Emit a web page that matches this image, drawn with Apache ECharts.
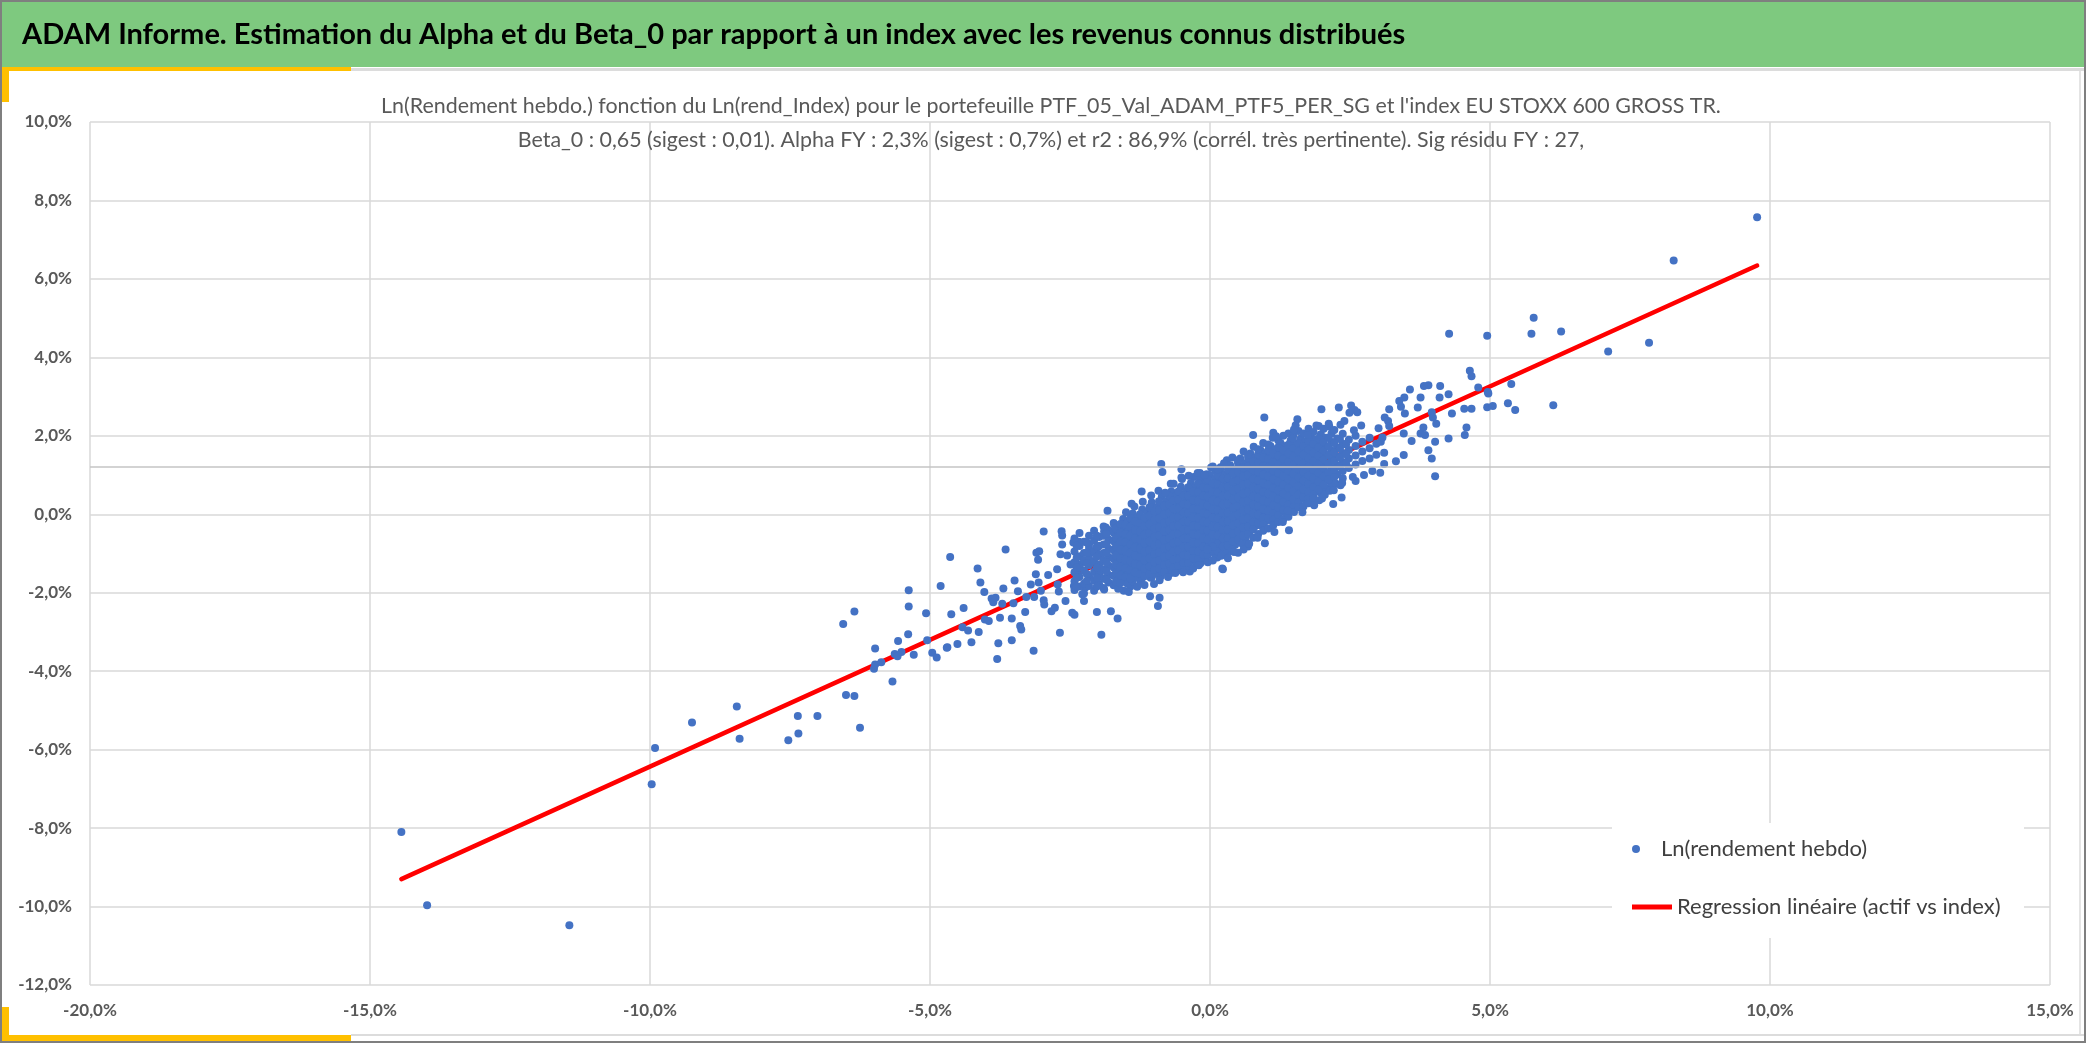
<!DOCTYPE html>
<html>
<head>
<meta charset="utf-8">
<script src="https://cdn.jsdelivr.net/npm/echarts@6/dist/echarts.min.js"></script>
<style>
html, body { margin: 0; padding: 0; background: #fff; }
#chart { width: 2086px; height: 1043px; }
</style>
</head>
<body>
<div id="chart"></div>
<script>
'use strict';

const FONT = 'Lato, "Open Sans", sans-serif';

const headerText = 'ADAM Informe. Estimation du Alpha et du Beta_0 par rapport à un index avec les revenus connus distribués';
const subtitleLines = [
    "Ln(Rendement hebdo.) fonction du Ln(rend_Index) pour le portefeuille PTF_05_Val_ADAM_PTF5_PER_SG et l'index EU STOXX 600 GROSS TR.",
    'Beta_0 : 0,65 (sigest : 0,01). Alpha FY : 2,3% (sigest : 0,7%) et r2 : 86,9% (corrél. très pertinente). Sig résidu FY : 27,'
];
const seriesNames = ['Ln(rendement hebdo)', 'Regression linéaire (actif vs index)'];

// axes in percent
const xRange = [-20, 15, 5];
const yRange = [-12, 10, 2];
const crossLineY = 1.22;

// x = Ln(rend_Index) %, y = Ln(rendement hebdo) %
const lowerTail = [
    [-14.44, -8.10], [-13.98, -9.97], [-11.44, -10.48], [-9.97, -6.88], [-9.91, -5.96], [-9.25, -5.31],
    [-8.45, -4.90], [-8.40, -5.72], [-7.53, -5.76], [-7.35, -5.59], [-7.36, -5.14], [-7.01, -5.14],
    [-6.50, -4.61], [-6.35, -4.63], [-6.25, -5.44], [-6.55, -2.80], [-6.35, -2.48], [-6.00, -3.94],
    [-5.98, -3.83], [-5.98, -3.42], [-5.87, -3.77], [-5.67, -4.26], [-5.63, -3.56], [-5.58, -3.62],
    [-5.57, -3.23], [-5.51, -3.51], [-5.39, -3.06], [-5.38, -1.94], [-5.38, -2.35], [-5.29, -3.58],
    [-5.07, -2.52], [-5.05, -3.21], [-4.96, -3.53], [-4.88, -3.65], [-4.81, -1.83], [-4.69, -3.39],
    [-4.64, -1.09], [-4.62, -2.55]
];

const leftFringe = [
    [-4.70, -3.40], [-4.51, -3.31], [-4.26, -3.26], [-4.40, -2.39], [-4.42, -2.88], [-4.32, -2.96],
    [-4.13, -3.00], [-4.15, -1.38], [-4.10, -1.74], [-4.03, -1.98], [-4.02, -2.68], [-3.90, -2.15],
    [-3.87, -2.24], [-3.83, -2.13], [-3.95, -2.72], [-3.80, -3.69], [-3.78, -3.29], [-3.75, -2.64],
    [-3.71, -2.28], [-3.69, -1.89], [-3.65, -0.90], [-3.54, -3.21], [-3.54, -2.66], [-3.51, -2.27],
    [-3.49, -1.69], [-3.43, -1.96], [-3.39, -2.85], [-3.37, -2.94], [-3.30, -2.49], [-3.28, -2.11],
    [-3.20, -1.79], [-3.15, -3.48], [-3.14, -2.11], [-3.11, -1.53], [-3.07, -1.16], [-3.10, -0.98],
    [-3.05, -0.94], [-3.06, -1.74], [-3.02, -1.95], [-2.97, -2.19], [-2.96, -2.30], [-2.97, -0.44],
    [-2.89, -1.55], [-2.83, -2.47], [-2.77, -2.38], [-2.73, -1.40], [-2.72, -1.79], [-2.70, -1.97],
    [-2.68, -3.02], [-2.65, -0.43], [-2.64, -0.54], [-2.64, -0.77], [-2.67, -1.02], [-2.55, -1.05],
    [-2.49, -1.28], [-2.58, -2.21], [-2.44, -0.72], [-2.34, -0.70], [-2.46, -2.51], [-2.42, -2.56],
    [-2.43, -1.83], [-2.37, -1.53], [-2.32, -1.28], [-2.25, -2.21], [-2.28, -2.04], [-2.23, -1.87],
    [-2.16, -0.77], [-2.13, -0.98], [-2.01, -0.85], [-2.02, -2.49], [-1.94, -3.07], [-1.89, -1.92],
    [-1.83, 0.09], [-1.89, -0.43], [-1.86, -0.34], [-1.77, -2.47], [-1.65, -2.66], [-1.71, -0.26],
    [-1.40, 0.27], [-1.22, 0.58], [-1.07, -2.09], [-0.90, -2.13], [-0.93, -2.34], [-0.87, 1.28],
    [-0.85, 1.08], [-0.51, 1.15], [-0.18, 1.05], [0.02, 1.19], [0.30, 1.38], [-0.36, -1.46],
    [-0.15, -1.19], [0.23, -1.40], [0.30, -0.72], [-0.70, 0.78], [-0.29, 0.95], [-0.51, 0.94],
    [-0.06, 1.02], [-1.54, -1.95], [-1.42, -1.84], [-1.24, -1.75], [-1.06, -1.62], [-0.88, -1.58],
    [-0.70, -1.50], [-0.55, -1.42], [-0.38, -1.30], [-0.17, -1.25], [0.13, -1.10], [0.31, -0.98],
    [0.19, 1.20], [0.10, 1.10]
];

// dense core, one column per index return: [x, [y...]]
const coreColumns = [
    [-2.42, [-0.62, -0.95, -1.22, -1.48, -1.71, -1.93]],
    [-2.33, [-0.48, -0.81, -1.07, -1.35, -1.60, -1.84]],
    [-2.25, [-0.70, -0.99, -1.18, -1.44, -1.77, -2.02]],
    [-2.16, [-0.55, -0.86, -1.12, -1.30, -1.58, -1.83]],
    [-2.07, [-0.42, -0.67, -0.94, -1.21, -1.47, -1.69, -1.95]],
    [-1.98, [-0.58, -0.80, -1.03, -1.28, -1.52, -1.78]],
    [-1.90, [-0.31, -0.55, -0.77, -0.99, -1.17, -1.40, -1.63, -1.88]],
    [-1.81, [-0.40, -0.64, -0.88, -1.09, -1.31, -1.55, -1.74]],
    [-1.72, [-0.22, -0.47, -0.69, -0.92, -1.14, -1.36, -1.57, -1.81]],
    [-1.64, [-0.33, -0.55, -0.79, -1.00, -1.23, -1.45, -1.66, -1.90]],
    [-1.55, [-0.12, -0.36, -0.58, -0.80, -1.02, -1.25, -1.47, -1.70]],
    [-1.47, [-0.20, -0.43, -0.65, -0.87, -1.10, -1.31, -1.53, -1.78]],
    [-1.38, [0.02, -0.21, -0.44, -0.66, -0.88, -1.09, -1.30, -1.52, -1.71]],
    [-1.30, [-0.08, -0.30, -0.52, -0.73, -0.95, -1.16, -1.38, -1.61]],
    [-1.21, [0.12, -0.11, -0.33, -0.55, -0.76, -0.98, -1.20, -1.41, -1.62]],
    [-1.12, [0.03, -0.20, -0.41, -0.63, -0.85, -1.06, -1.27, -1.49]],
    [-1.04, [0.30, 0.08, -0.15, -0.36, -0.58, -0.79, -1.00, -1.22, -1.43, -1.60]],
    [-0.95, [0.18, -0.04, -0.26, -0.47, -0.69, -0.90, -1.12, -1.33, -1.52]],
    [-0.86, [0.45, 0.23, 0.01, -0.21, -0.42, -0.64, -0.85, -1.07, -1.28, -1.46]],
    [-0.78, [0.33, 0.11, -0.11, -0.32, -0.54, -0.75, -0.97, -1.18, -1.38]],
    [-0.69, [0.58, 0.36, 0.14, -0.08, -0.29, -0.51, -0.72, -0.94, -1.15, -1.35]],
    [-0.60, [0.47, 0.25, 0.03, -0.19, -0.40, -0.62, -0.83, -1.05, -1.26]],
    [-0.52, [0.70, 0.48, 0.26, 0.04, -0.18, -0.39, -0.61, -0.82, -1.04, -1.27]],
    [-0.43, [0.58, 0.36, 0.14, -0.08, -0.29, -0.51, -0.72, -0.94, -1.15, -1.33]],
    [-0.34, [0.80, 0.58, 0.36, 0.14, -0.08, -0.29, -0.51, -0.72, -0.94, -1.15]],
    [-0.26, [0.69, 0.47, 0.25, 0.03, -0.19, -0.40, -0.62, -0.83, -1.05, -1.22]],
    [-0.17, [0.90, 0.68, 0.46, 0.24, 0.02, -0.20, -0.41, -0.63, -0.84, -1.06]],
    [-0.08, [0.80, 0.58, 0.36, 0.14, -0.08, -0.29, -0.51, -0.72, -0.94, -1.12]],
    [0.00, [1.00, 0.78, 0.56, 0.34, 0.12, -0.10, -0.31, -0.53, -0.74, -0.96]],
    [0.09, [0.90, 0.68, 0.46, 0.24, 0.02, -0.20, -0.41, -0.63, -0.84, -1.02]],
    [0.18, [1.10, 0.88, 0.66, 0.44, 0.22, 0.00, -0.21, -0.43, -0.64, -0.86]],
    [0.27, [1.02, 0.80, 0.58, 0.36, 0.14, -0.08, -0.29, -0.51, -0.72, -0.92]],
    [0.36, [1.25, 1.03, 0.81, 0.59, 0.37, 0.15, -0.07, -0.28, -0.50, -0.71]],
    [0.45, [1.15, 0.93, 0.71, 0.49, 0.27, 0.05, -0.17, -0.38, -0.60, -0.78]],
    [0.54, [1.42, 1.20, 0.98, 0.76, 0.54, 0.32, 0.10, -0.12, -0.33, -0.55]],
    [0.63, [1.30, 1.08, 0.86, 0.64, 0.42, 0.20, -0.02, -0.23, -0.45, -0.62]],
    [0.72, [1.55, 1.33, 1.11, 0.89, 0.67, 0.45, 0.23, 0.01, -0.20, -0.42]],
    [0.81, [1.45, 1.23, 1.01, 0.79, 0.57, 0.35, 0.13, -0.09, -0.30]],
    [0.90, [1.64, 1.42, 1.20, 0.98, 0.76, 0.54, 0.32, 0.10, -0.11, -0.28]],
    [0.99, [1.56, 1.34, 1.12, 0.90, 0.68, 0.46, 0.24, 0.02, -0.18]],
    [1.08, [1.74, 1.52, 1.30, 1.08, 0.86, 0.64, 0.42, 0.20, -0.02, -0.15]],
    [1.17, [1.66, 1.44, 1.22, 1.00, 0.78, 0.56, 0.34, 0.12, -0.08]],
    [1.26, [1.82, 1.60, 1.38, 1.16, 0.94, 0.72, 0.50, 0.28, 0.06]],
    [1.35, [1.74, 1.52, 1.30, 1.08, 0.86, 0.64, 0.42, 0.20, 0.05]],
    [1.44, [1.88, 1.66, 1.44, 1.22, 1.00, 0.78, 0.56, 0.34, 0.14]],
    [1.53, [1.80, 1.58, 1.36, 1.14, 0.92, 0.70, 0.48, 0.27]],
    [1.62, [1.93, 1.71, 1.49, 1.27, 1.05, 0.83, 0.61, 0.39]],
    [1.71, [1.85, 1.63, 1.41, 1.19, 0.97, 0.75, 0.53, 0.36]],
    [1.80, [1.98, 1.76, 1.54, 1.32, 1.10, 0.88, 0.66, 0.46]],
    [1.89, [1.90, 1.68, 1.46, 1.24, 1.02, 0.80, 0.58]],
    [1.98, [2.04, 1.82, 1.60, 1.38, 1.16, 0.94, 0.72, 0.55]],
    [2.07, [1.95, 1.73, 1.51, 1.29, 1.07, 0.85, 0.66]],
    [2.17, [2.06, 1.84, 1.62, 1.40, 1.18, 0.96, 0.78]],
    [2.27, [1.93, 1.70, 1.47, 1.25, 1.02]],
    [2.37, [2.05, 1.80, 1.56, 1.33, 1.10, 0.92]],
    [2.48, [1.90, 1.64, 1.42, 1.18]],
    [2.60, [2.00, 1.74, 1.50, 1.27]],
    [2.72, [1.85, 1.60, 1.36]],
    [2.85, [1.95, 1.68, 1.42]],
    [2.97, [1.80, 1.52]]
];

// second layer of the core, between the columns above
const coreColumnsB = [
    [-2.38, [-0.80, -1.10, -1.36, -1.62, -1.85]],
    [-2.20, [-0.72, -0.98, -1.25, -1.52, -1.70]],
    [-2.02, [-0.55, -0.82, -1.08, -1.36, -1.62, -1.84]],
    [-1.85, [-0.50, -0.76, -0.98, -1.22, -1.45, -1.67]],
    [-1.68, [-0.36, -0.60, -0.83, -1.05, -1.28, -1.50, -1.72]],
    [-1.60, [-0.25, -0.47, -0.70, -0.90, -1.12, -1.34, -1.56, -1.76]],
    [-1.51, [-0.27, -0.50, -0.71, -0.93, -1.15, -1.37, -1.60]],
    [-1.42, [-0.10, -0.32, -0.55, -0.77, -0.98, -1.20, -1.42, -1.63]],
    [-1.34, [-0.18, -0.40, -0.62, -0.84, -1.05, -1.27, -1.48]],
    [-1.25, [0.00, -0.22, -0.44, -0.65, -0.87, -1.09, -1.30, -1.52]],
    [-1.17, [-0.08, -0.30, -0.52, -0.74, -0.95, -1.17, -1.38, -1.58]],
    [-1.08, [0.18, -0.04, -0.26, -0.48, -0.69, -0.91, -1.12, -1.33, -1.52]],
    [-0.99, [0.08, -0.14, -0.36, -0.57, -0.79, -1.01, -1.22, -1.42]],
    [-0.91, [0.33, 0.11, -0.11, -0.33, -0.54, -0.76, -0.97, -1.18, -1.38]],
    [-0.82, [0.22, 0.00, -0.22, -0.43, -0.65, -0.86, -1.08, -1.29, -1.47]],
    [-0.73, [0.47, 0.25, 0.03, -0.19, -0.40, -0.62, -0.83, -1.05, -1.26]],
    [-0.65, [0.36, 0.14, -0.08, -0.30, -0.51, -0.73, -0.94, -1.16, -1.36]],
    [-0.56, [0.59, 0.37, 0.15, -0.07, -0.28, -0.50, -0.71, -0.93, -1.15, -1.32]],
    [-0.47, [0.48, 0.26, 0.04, -0.18, -0.39, -0.61, -0.82, -1.04, -1.24]],
    [-0.39, [0.69, 0.47, 0.25, 0.03, -0.19, -0.40, -0.62, -0.83, -1.05, -1.24]],
    [-0.30, [0.58, 0.36, 0.14, -0.08, -0.29, -0.51, -0.72, -0.94, -1.12]],
    [-0.21, [0.79, 0.57, 0.35, 0.13, -0.09, -0.30, -0.52, -0.73, -0.95, -1.14]],
    [-0.12, [0.69, 0.47, 0.25, 0.03, -0.19, -0.40, -0.62, -0.83, -1.03]],
    [-0.04, [0.89, 0.67, 0.45, 0.23, 0.01, -0.21, -0.42, -0.64, -0.85, -1.04]],
    [0.05, [0.79, 0.57, 0.35, 0.13, -0.09, -0.31, -0.52, -0.74, -0.93]],
    [0.14, [0.99, 0.77, 0.55, 0.33, 0.11, -0.11, -0.32, -0.54, -0.75, -0.94]],
    [0.23, [0.91, 0.69, 0.47, 0.25, 0.03, -0.19, -0.40, -0.62, -0.82]],
    [0.32, [1.14, 0.92, 0.70, 0.48, 0.26, 0.04, -0.18, -0.39, -0.61, -0.80]],
    [0.41, [1.04, 0.82, 0.60, 0.38, 0.16, -0.06, -0.28, -0.49, -0.69]],
    [0.50, [1.31, 1.09, 0.87, 0.65, 0.43, 0.21, -0.01, -0.23, -0.44, -0.64]],
    [0.59, [1.19, 0.97, 0.75, 0.53, 0.31, 0.09, -0.13, -0.34, -0.54]],
    [0.68, [1.44, 1.22, 1.00, 0.78, 0.56, 0.34, 0.12, -0.10, -0.31, -0.50]],
    [0.77, [1.34, 1.12, 0.90, 0.68, 0.46, 0.24, 0.02, -0.20, -0.38]],
    [0.86, [1.53, 1.31, 1.09, 0.87, 0.65, 0.43, 0.21, -0.01, -0.22]],
    [0.95, [1.45, 1.23, 1.01, 0.79, 0.57, 0.35, 0.13, -0.09, -0.26]],
    [1.04, [1.63, 1.41, 1.19, 0.97, 0.75, 0.53, 0.31, 0.09, -0.10]],
    [1.13, [1.55, 1.33, 1.11, 0.89, 0.67, 0.45, 0.23, 0.02, -0.14]],
    [1.22, [1.71, 1.49, 1.27, 1.05, 0.83, 0.61, 0.39, 0.17, -0.02]],
    [1.31, [1.63, 1.41, 1.19, 0.97, 0.75, 0.53, 0.31, 0.11]],
    [1.40, [1.77, 1.55, 1.33, 1.11, 0.89, 0.67, 0.45, 0.24, 0.08]],
    [1.49, [1.69, 1.47, 1.25, 1.03, 0.81, 0.59, 0.38, 0.18]],
    [1.58, [1.82, 1.60, 1.38, 1.16, 0.94, 0.72, 0.50, 0.30]],
    [1.67, [1.74, 1.52, 1.30, 1.08, 0.86, 0.64, 0.44]],
    [1.76, [1.87, 1.65, 1.43, 1.21, 0.99, 0.77, 0.56, 0.40]],
    [1.85, [1.79, 1.57, 1.35, 1.13, 0.91, 0.69, 0.50]],
    [1.94, [1.93, 1.71, 1.49, 1.27, 1.05, 0.83, 0.63]],
    [2.03, [1.84, 1.62, 1.40, 1.18, 0.96, 0.76]],
    [2.12, [1.95, 1.73, 1.51, 1.29, 1.07, 0.88]],
    [2.22, [1.82, 1.58, 1.36, 1.14, 0.95]],
    [2.32, [1.92, 1.68, 1.45, 1.22]],
    [2.43, [1.78, 1.53, 1.30]]
];

// points along the upper and lower edge of the dense core
const coreTopEdge = [
    [-1.50, 0.05], [-1.35, 0.20], [-1.20, 0.32], [-1.05, 0.48], [-0.92, 0.60], [-0.80, 0.55], [-0.65, 0.78],
    [-0.50, 0.90], [-0.38, 0.98], [-0.22, 1.05], [-0.10, 1.00], [0.05, 1.22], [0.14, 1.15], [0.25, 1.30],
    [0.40, 1.45], [0.50, 1.38], [0.60, 1.60], [0.68, 1.52], [0.78, 1.72], [0.86, 1.66], [0.95, 1.82],
    [1.04, 1.78], [1.12, 1.95], [1.22, 1.88], [1.31, 2.00], [1.40, 2.06], [1.49, 2.02], [1.58, 2.12],
    [1.67, 2.06], [1.76, 2.18], [1.85, 2.10], [1.94, 2.25], [2.03, 2.18], [2.13, 2.24], [2.22, 2.15],
    [2.33, 2.28]
];
const coreBottomEdge = [
    [-1.45, -1.98], [-1.30, -1.85], [-1.17, -1.80], [-1.00, -1.78], [-0.90, -1.68], [-0.75, -1.60],
    [-0.62, -1.50], [-0.48, -1.48], [-0.30, -1.38], [-0.20, -1.30], [-0.04, -1.22], [0.05, -1.18],
    [0.20, -1.06], [0.32, -1.12], [0.40, -0.90], [0.50, -0.98], [0.58, -0.76], [0.68, -0.82],
    [0.77, -0.60], [0.86, -0.50], [0.95, -0.42], [1.04, -0.36], [1.13, -0.28], [1.22, -0.20],
    [1.31, -0.12], [1.40, -0.06], [1.50, 0.06], [1.58, 0.18], [1.67, 0.20], [1.76, 0.28], [1.85, 0.40],
    [1.95, 0.36], [2.05, 0.50], [2.14, 0.60], [2.25, 0.78], [2.33, 0.74]
];

const coreFringe = [
    [1.99, 2.68], [2.30, 2.72], [2.52, 2.77], [2.58, 2.66], [2.63, 2.60], [2.49, 2.59], [0.97, 2.47],
    [1.56, 2.42], [1.53, 2.27], [1.50, 2.16], [0.77, 2.02], [1.13, 2.08], [1.18, 1.99], [1.90, 2.26],
    [2.12, 2.31], [2.40, 2.38], [2.57, 2.14], [2.70, 2.26], [1.48, 1.93], [1.74, 2.02],
    [0.22, -1.38], [0.98, -0.74], [0.43, -0.96], [1.15, -0.45], [1.41, -0.41], [1.30, -0.20],
    [1.39, 0.09], [1.86, 0.23], [2.20, 0.26], [2.35, 0.43], [2.21, 0.61], [2.36, 0.80], [0.05, -0.83],
    [-0.05, -0.90], [0.60, -0.90], [0.70, -0.75], [0.85, -0.60], [2.00, 0.40], [1.65, 0.05],
    [2.60, 0.85], [2.75, 1.00], [2.90, 1.10], [2.55, 0.95]
];

const rightFringe = [
    [4.27, 4.60], [4.95, 4.55], [4.64, 3.66], [4.67, 3.52], [4.79, 3.23], [4.96, 3.12], [4.54, 2.69],
    [4.67, 2.69], [4.32, 2.57], [4.26, 3.06], [4.11, 3.27], [4.10, 2.98], [3.90, 3.29], [3.82, 3.27],
    [3.76, 2.98], [3.57, 3.18], [3.71, 2.72], [3.47, 2.98], [3.38, 2.89], [3.41, 2.74], [3.48, 2.57],
    [3.20, 2.68], [3.12, 2.47], [3.18, 2.38], [3.20, 2.25], [3.01, 2.19], [3.96, 2.60], [3.98, 2.47],
    [4.04, 2.31], [3.81, 2.21], [3.76, 2.06], [3.84, 2.02], [4.58, 2.21], [4.55, 2.02], [4.26, 1.93],
    [4.02, 1.85], [3.90, 1.63], [3.96, 1.42], [4.02, 0.97], [3.60, 1.87], [3.46, 2.06], [3.46, 1.51],
    [3.32, 1.35], [3.11, 1.28], [3.04, 1.06], [3.11, 1.57], [3.05, 1.85], [3.08, 1.96]
];

const upperTail = [
    [9.77, 7.57], [8.28, 6.47], [5.78, 5.01], [5.74, 4.60], [6.27, 4.66], [7.11, 4.15], [7.84, 4.37],
    [5.38, 3.32], [4.97, 3.08], [4.95, 2.73], [5.05, 2.76], [5.32, 2.83], [5.45, 2.66], [6.13, 2.78]
];

const regressionLine = [[-14.44, -9.30], [9.77, 6.34]];

const corePoints = [];
coreColumns.concat(coreColumnsB).forEach(([x, ys]) => ys.forEach(y => corePoints.push([x, y])));
const scatterPoints = [].concat(lowerTail, leftFringe, corePoints, coreTopEdge, coreBottomEdge,
    coreFringe, rightFringe, upperTail);

const pctLabel = v => v.toFixed(1).replace('.', ',') + '%';

const labelStyle = {
    color: '#595959', fontFamily: FONT, fontSize: 17, fontWeight: 'bold'
};
const splitLine = {show: true, lineStyle: {color: '#d9d9d9', width: 1.5}};

const chart = echarts.init(document.getElementById('chart'));
chart.setOption({
    animation: false,
    backgroundColor: '#ffffff',
    graphic: [
        {type: 'rect', shape: {x: 1, y: 1, width: 2084, height: 66}, style: {fill: '#7ec97f'}, z: 10},
        {type: 'rect', shape: {x: 351, y: 68, width: 1733, height: 3}, style: {fill: '#dcdcdc'}, z: 10},
        {type: 'rect', shape: {x: 0, y: 67, width: 351, height: 4}, style: {fill: '#ffc000'}, z: 10},
        {type: 'rect', shape: {x: 0, y: 67, width: 9, height: 35}, style: {fill: '#ffc000'}, z: 10},
        {type: 'rect', shape: {x: 351, y: 1034, width: 1733, height: 2}, style: {fill: '#dcdcdc'}, z: 10},
        {type: 'rect', shape: {x: 2079, y: 71, width: 2, height: 963}, style: {fill: '#e4e4e4'}, z: 10},
        {type: 'rect', shape: {x: 0, y: 1035, width: 351, height: 8}, style: {fill: '#ffc000'}, z: 10},
        {type: 'rect', shape: {x: 0, y: 1007, width: 9, height: 36}, style: {fill: '#ffc000'}, z: 10},
        {type: 'rect', shape: {x: 1, y: 1, width: 2084, height: 1041},
            style: {fill: 'none', stroke: '#7f7f7f', lineWidth: 2}, z: 11},
        {type: 'text', x: 22, y: 35, z: 12, style: {
            text: headerText, fill: '#000000', fontFamily: FONT, fontSize: 29, fontWeight: 'bold',
            textAlign: 'left', textVerticalAlign: 'middle'}},
        {type: 'text', x: 1051, y: 106, z: 12, style: {
            text: subtitleLines[0], fill: '#595959', fontFamily: FONT, fontSize: 21.4,
            textAlign: 'center', textVerticalAlign: 'middle'}},
        {type: 'text', x: 1051, y: 140, z: 12, style: {
            text: subtitleLines[1], fill: '#595959', fontFamily: FONT, fontSize: 21.4,
            textAlign: 'center', textVerticalAlign: 'middle'}},
        // legend backdrop hides the grid lines behind the legend
        {type: 'rect', shape: {x: 1612, y: 823, width: 412, height: 115}, style: {fill: '#ffffff'}, z: 1}
    ],
    grid: {left: 90, right: 36, top: 122, bottom: 58, containLabel: false, outerBoundsMode: 'none'},
    xAxis: {
        type: 'value', min: xRange[0], max: xRange[1], interval: xRange[2],
        axisLine: {show: false}, axisTick: {show: false}, splitLine: splitLine,
        axisLabel: Object.assign({formatter: pctLabel, margin: 17}, labelStyle)
    },
    yAxis: {
        type: 'value', min: yRange[0], max: yRange[1], interval: yRange[2],
        axisLine: {show: false}, axisTick: {show: false}, splitLine: splitLine,
        axisLabel: Object.assign({formatter: pctLabel, margin: 18}, labelStyle)
    },
    legend: [
        {
            data: [{name: seriesNames[0], icon: 'circle'}],
            left: 1632, top: 838, padding: 0, itemWidth: 40, itemHeight: 8, z: 5,
            selectedMode: false,
            textStyle: {color: '#404040', fontFamily: FONT, fontSize: 22}
        },
        {
            data: [{name: seriesNames[1], icon: 'rect', itemStyle: {color: '#ff0000'}}],
            left: 1632, top: 896, padding: 0, itemWidth: 40, itemHeight: 5, z: 5,
            selectedMode: false,
            textStyle: {color: '#404040', fontFamily: FONT, fontSize: 22}
        }
    ],
    series: [
        {
            name: 'axe', type: 'line', data: [], z: 1, silent: true,
            markLine: {
                silent: true, symbol: 'none', label: {show: false},
                lineStyle: {color: '#c4c4c4', width: 1.5, type: 'solid'},
                data: [{yAxis: crossLineY}]
            }
        },
        {
            // drawn under the points, as in the reference
            name: seriesNames[1], type: 'line', data: regressionLine, symbol: 'none', z: 1.5,
            lineStyle: {color: '#ff0000', width: 4.5, cap: 'round'},
            itemStyle: {color: '#ff0000'}
        },
        {
            name: seriesNames[0], type: 'scatter', data: scatterPoints, symbolSize: 8, z: 2,
            itemStyle: {color: '#4472c4', opacity: 1}
        }
    ]
});
</script>
</body>
</html>
